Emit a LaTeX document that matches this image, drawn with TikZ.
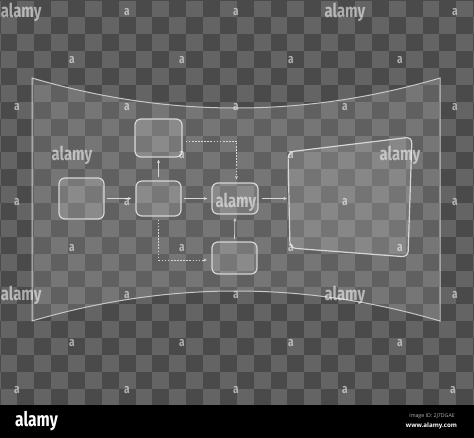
\documentclass[tikz,border=0pt]{standalone}
\usepackage{fontspec}
\setmainfont{Open Sans}
\newfontfamily\wmfont[FakeStretch=0.78]{Fira Sans}
\usetikzlibrary{arrows.meta,calc}
\definecolor{chkdark}{HTML}{4A4A4A}
\definecolor{chklight}{HTML}{646464}
\definecolor{edge}{HTML}{D6D6D6}
\definecolor{paneledge}{HTML}{C8C8C8}
\begin{document}
\begin{tikzpicture}[x=1pt,y=-1pt,
  box/.style={draw=edge, line width=1.2pt, rounded corners=6pt, fill=white,
    fill opacity=0.15, text opacity=1, inner sep=0pt},
  flow/.style={draw=edge, line width=0.75pt, -{Stealth[length=3.5pt,width=3pt]}},
  dflow/.style={flow, dash pattern=on 1.7pt off 1.4pt},
  wa/.style={text=white, opacity=0.55, inner sep=0pt,
    font=\wmfont\bfseries\fontsize{13}{13}\selectfont},
  wl/.style={text=white, opacity=0.55, inner sep=0pt,
    font=\wmfont\bfseries\fontsize{19}{19}\selectfont}]
\useasboundingbox (0,0) rectangle (474,438);
% checkerboard background
\begin{scope}
  \clip (0,0) rectangle (474,405);
  \fill[chklight] (0,0) rectangle (474,405);
  \foreach \i in {-1,...,28}{
    \foreach \j in {-1,...,24}{
      \ifodd\numexpr\i+\j+2\relax\else
        \fill[chkdark] ({\i*16.88+0.5},{\j*16.88+0.5}) rectangle ++(16.9,16.9);
      \fi}}
\end{scope}
% bottom bar
\fill[black] (0,405) rectangle (474,438);
% curved screen
\path[fill=white, fill opacity=0.12, draw=paneledge, line width=1pt]
  (32,78) .. controls (168,118) and (304,118) .. (440,78)
  -- (440,321) .. controls (304,281) and (168,281) .. (32,321) -- cycle;
% big right panel
\path[fill=white, fill opacity=0.13, draw=edge, line width=1.2pt, rounded corners=6pt]
  (288,152) -- (412,137) -- (408,257) -- (290,248) -- cycle;
\coordinate (F) at (289,198.5);
% flowchart boxes
\node[box, minimum width=45pt, minimum height=41pt] (A) at (81.5,198.5) {};
\node[box, minimum width=45pt, minimum height=35pt] (B) at (158.5,198.5) {};
\node[box, minimum width=46pt, minimum height=31pt] (C) at (235,198.5) {};
\node[box, minimum width=45pt, minimum height=32pt] (D) at (234.5,258) {};
\node[box, minimum width=47pt, minimum height=38pt] (E) at (158.5,138) {};
% connectors
\draw[flow, shorten <=2pt, shorten >=4pt] (A.east) -- (B.west);
\draw[flow, shorten <=2pt, shorten >=4pt] (B.east) -- (C.west);
\draw[flow, shorten <=3pt, shorten >=2pt] (C.east) -- (F);
\draw[flow, shorten <=2.5pt, shorten >=3.5pt] (D.north) -- (C.south);
\draw[flow, shorten <=3pt, shorten >=2pt] (B.north) -- (E.south);
\draw[dflow, shorten >=3pt] ($(E.east)+(3,3)$) -| ([xshift=1.5pt]C.north);
\draw[dflow, shorten <=3pt, shorten >=4.5pt] (B.south) |- ($(D.west)+(0,2)$);
% watermarks
\foreach \x/\y [count=\k] in {127/12,236/12,455/12,
  72/60,182/60,291/60,400/60,
  17/107,127/107,236/107,345/107,455/107,
  182/155,291/155,
  17/202,127/202,345/202,455/202,
  72/248,182/248,291/248,400/248,
  127/295,236/295,455/295,
  72/343,182/343,291/343,400/343,
  17/390,127/390,236/390,345/390,453/390}
  \node[wa] (wa\k) at (\x,\y) {a};
\foreach \x/\y [count=\k] in {345/12,72/155,400/155,236/202,345/295}
  \node[wl] (wl\k) at (\x,\y) {alamy};
\node[wl, anchor=west] (wl6) at (0.8,12) {alamy};
\node[wl, anchor=west] (wl7) at (0.8,295) {alamy};
% bottom bar texts
\node[text=white, inner sep=0pt, font=\wmfont\bfseries\fontsize{20}{20}\selectfont]
  (logo) at (36.5,421) {alamy};
\node[text=white!72!black, inner sep=0pt, font=\fontsize{5.2}{6}\selectfont]
  (imgid) at (432,416.5) {Image ID: 2J7DGAE};
\node[text=white, inner sep=0pt, font=\bfseries\fontsize{6.2}{7}\selectfont]
  (url) at (431.5,425.5) {www.alamy.com};
\end{tikzpicture}
\end{document}
